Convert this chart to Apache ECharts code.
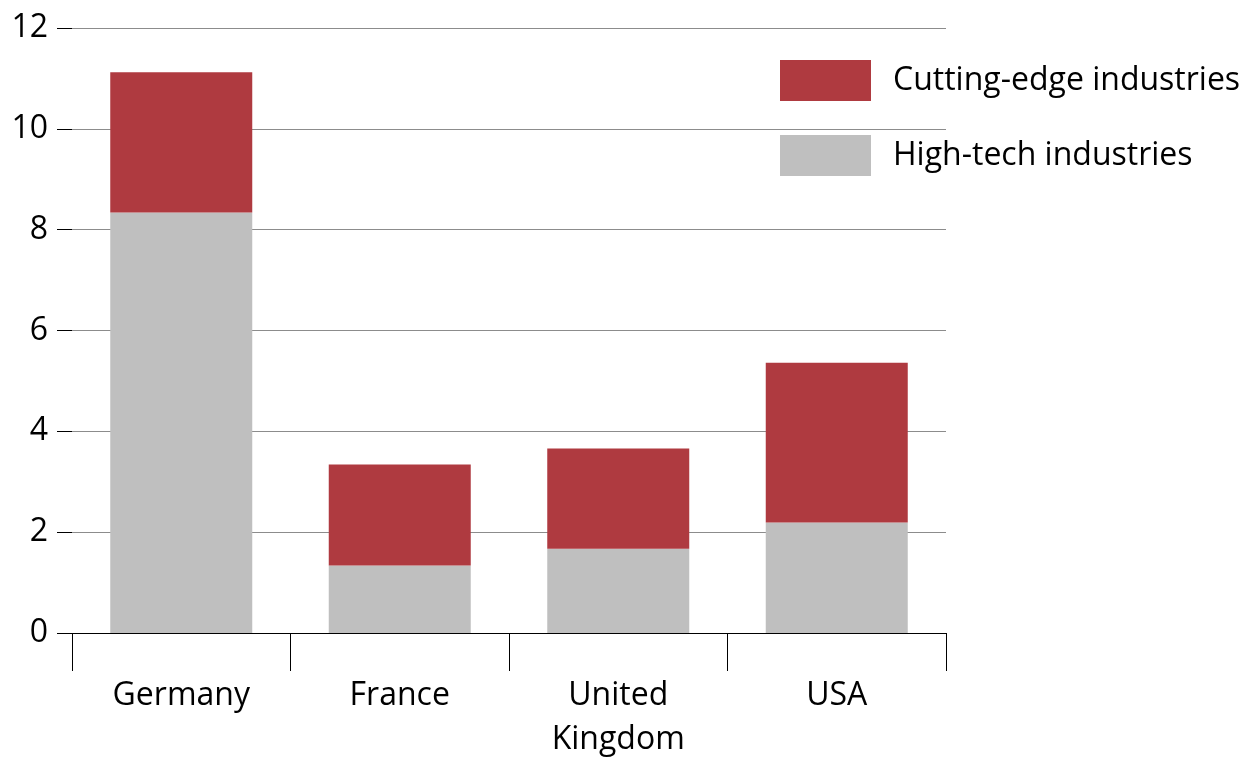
<!DOCTYPE html>
<html>
<head>
<meta charset="utf-8">
<script src="https://cdn.jsdelivr.net/npm/echarts@6/dist/echarts.min.js"></script>
<style>
  html, body { margin: 0; padding: 0; background: #fff; }
  #chart { width: 1251px; height: 757px; }
</style>
</head>
<body>
<div id="chart"></div>
<script>
// Countries on the category axis
const categories = ['Germany', 'France', 'United\nKingdom', 'USA'];
// Stacked values per country
const highTech = [8.34, 1.34, 1.67, 2.19];
const cuttingEdge = [2.78, 2.00, 1.99, 3.17];
// Value axis ticks
const yTicks = [0, 2, 4, 6, 8, 10, 12];

const FONT = '"Open Sans", sans-serif';
const RED = '#AF3A40';
const GREY = '#BFBFBF';

const chart = echarts.init(document.getElementById('chart'), null, { renderer: 'canvas' });

chart.setOption({
  animation: false,
  backgroundColor: '#fff',
  textStyle: { fontFamily: FONT },
  grid: {
    left: 72, right: 305, top: 28, bottom: 124,
    containLabel: false,
    outerBoundsMode: 'none'
  },
  legend: {
    orient: 'vertical',
    left: 775,
    top: 55,
    itemWidth: 91,
    itemHeight: 41,
    itemGap: 34,
    icon: 'rect',
    data: ['Cutting-edge industries', 'High-tech industries'],
    textStyle: { fontFamily: FONT, fontSize: 32, color: '#000', padding: [0, 0, 0, 17] }
  },
  xAxis: {
    type: 'category',
    data: categories,
    axisLine: { show: true, lineStyle: { color: '#000', width: 1 } },
    axisTick: { show: true, length: 38, lineStyle: { color: '#000', width: 1 } },
    axisLabel: {
      fontFamily: FONT, fontSize: 32, color: '#000',
      margin: 41, lineHeight: 44
    },
    splitLine: { show: false }
  },
  yAxis: {
    type: 'value',
    min: yTicks[0],
    max: yTicks[yTicks.length - 1],
    interval: 2,
    axisLine: { show: false },
    axisTick: { show: true, length: 15, lineStyle: { color: '#000', width: 1 } },
    axisLabel: { fontFamily: FONT, fontSize: 32, color: '#000', margin: 24 },
    splitLine: { show: true, lineStyle: { color: '#8C8C8C', width: 1 } }
  },
  series: [
    {
      name: 'High-tech industries',
      type: 'bar',
      stack: 'total',
      data: highTech,
      barWidth: 142,
      itemStyle: { color: GREY },
      z: 3
    },
    {
      name: 'Cutting-edge industries',
      type: 'bar',
      stack: 'total',
      data: cuttingEdge,
      barWidth: 142,
      itemStyle: { color: RED },
      z: 3
    }
  ]
});
</script>
</body>
</html>
